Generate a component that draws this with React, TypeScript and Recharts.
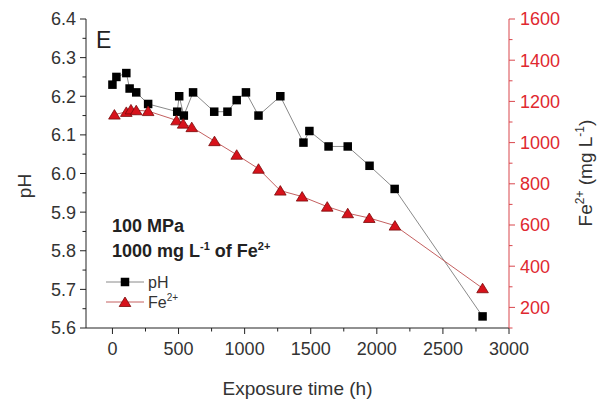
import React from 'react';
import { LineChart, Line, XAxis, YAxis } from 'recharts';

const FONT = '"Liberation Sans", Arial, Helvetica, sans-serif';

// ---- data ----
const phTimes = [0, 30, 105, 130, 180, 270, 490, 505, 540, 610, 770, 870, 940, 1010, 1105, 1270, 1445, 1490, 1635, 1780, 1945, 2135, 2800];
const phValues = [6.23, 6.25, 6.26, 6.22, 6.21, 6.18, 6.16, 6.2, 6.15, 6.21, 6.16, 6.16, 6.19, 6.21, 6.15, 6.2, 6.08, 6.11, 6.07, 6.07, 6.02, 5.96, 5.63];

const feTimes = [15, 105, 140, 180, 270, 485, 535, 600, 772, 940, 1105, 1270, 1435, 1625, 1780, 1943, 2137, 2800];
const feValues = [1136, 1149, 1161, 1157, 1153, 1108, 1092, 1075, 1007, 941, 873, 767, 738, 689, 657, 634, 597, 293];

// ---- ticks ----
const xMajorTicks = [0, 500, 1000, 1500, 2000, 2500, 3000];
const xMinorTicks = [250, 750, 1250, 1750, 2250, 2750];
const phMajorTicks = [5.6, 5.7, 5.8, 5.9, 6.0, 6.1, 6.2, 6.3, 6.4];
const phMinorTicks = [5.65, 5.75, 5.85, 5.95, 6.05, 6.15, 6.25, 6.35];
const feMajorTicks = [200, 400, 600, 800, 1000, 1200, 1400, 1600];
const feMinorTicks = [100, 300, 500, 700, 900, 1100, 1300, 1500];

const phData = phTimes.map((t, i) => ({ t, v: phValues[i] }));
const feData = feTimes.map((t, i) => ({ t, v: feValues[i] }));

const isMajor = (list: number[], v: number) => list.some((m) => Math.abs(m - v) < 1e-6);

const DARK = '#222';
const RED_LABEL = '#e0282f';
const RED_AXIS = '#d9474d';

const LeftTick = (props: any) => {
  const { x, y, payload } = props;
  const major = isMajor(phMajorTicks, payload.value);
  return (
    <g>
      <line x1={x} x2={x - (major ? 6 : 3.5)} y1={y} y2={y} stroke={DARK} strokeWidth={1} />
      {major && (
        <text x={x - 10} y={y} dy="0.36em" textAnchor="end" fontSize={18} fontFamily={FONT} fill="#333">
          {payload.value.toFixed(1)}
        </text>
      )}
    </g>
  );
};

const RightTick = (props: any) => {
  const { x, y, payload } = props;
  const major = isMajor(feMajorTicks, payload.value);
  return (
    <g>
      <line x1={x} x2={x + (major ? 6 : 3.5)} y1={y} y2={y} stroke={RED_AXIS} strokeWidth={1} />
      {major && (
        <text x={x + 11} y={y} dy="0.36em" textAnchor="start" fontSize={18} fontFamily={FONT} fill={RED_LABEL}>
          {payload.value}
        </text>
      )}
    </g>
  );
};

const BottomTick = (props: any) => {
  const { x, y, payload } = props;
  const major = isMajor(xMajorTicks, payload.value);
  return (
    <g>
      <line x1={x} x2={x} y1={y} y2={y + (major ? 6 : 3.5)} stroke={DARK} strokeWidth={1} />
      {major && (
        <text x={x} y={y + 27} textAnchor="middle" fontSize={18} fontFamily={FONT} fill="#333">
          {payload.value}
        </text>
      )}
    </g>
  );
};

const TopTick = (props: any) => {
  const { x, y, payload } = props;
  const major = isMajor(xMajorTicks, payload.value);
  return <line x1={x} x2={x} y1={y} y2={y + (major ? 6 : 3.5)} stroke={DARK} strokeWidth={1} />;
};

const Square = (props: any) => {
  const { cx, cy, index } = props;
  if (cx == null || cy == null) return <g key={`s-${index}`} />;
  return <rect key={`s-${index}`} x={cx - 4.25} y={cy - 4.25} width={8.5} height={8.5} fill="#000" />;
};

const Triangle = (props: any) => {
  const { cx, cy, index } = props;
  if (cx == null || cy == null) return <g key={`t-${index}`} />;
  const pts = `${cx},${cy - 5} ${cx - 5.8},${cy + 4.5} ${cx + 5.8},${cy + 4.5}`;
  return <polygon key={`t-${index}`} points={pts} fill="#d7121b" stroke="#7a0a0a" strokeWidth={0.8} />;
};

const XTitle = (props: any) => {
  const vb = props.viewBox || {};
  return (
    <text x={vb.x + vb.width / 2} y={395} textAnchor="middle" fontSize={19} fontFamily={FONT} fill="#333">
      Exposure time (h)
    </text>
  );
};

const LeftTitle = () => (
  <text x={31} y={186} transform="rotate(-90, 31, 186)" textAnchor="middle" fontSize={19} fontFamily={FONT} fill="#333">
    pH
  </text>
);

const RightTitle = () => (
  <text x={592} y={173} transform="rotate(-90, 592, 173)" textAnchor="middle" fontSize={19} fontFamily={FONT} fill="#333">
    Fe
    <tspan fontSize={12} dy={-8}>2+</tspan>
    <tspan dy={8}> (mg L</tspan>
    <tspan fontSize={12} dy={-8}>-1</tspan>
    <tspan dy={8}>)</tspan>
  </text>
);

export default function App() {
  return (
    <div style={{ position: 'absolute', left: 0, top: 0, width: 602, height: 401, background: '#fff' }}>
      <LineChart width={602} height={401} margin={{ top: 19, right: 0, bottom: 0, left: 0 }}>
        <XAxis
          xAxisId="b"
          dataKey="t"
          type="number"
          domain={[-200, 3000]}
          ticks={[...xMajorTicks, ...xMinorTicks]}
          interval={0}
          height={73}
          tickSize={0}
          tickMargin={0}
          tickLine={false}
          tick={<BottomTick />}
          axisLine={{ stroke: DARK, strokeWidth: 1 }}
          allowDataOverflow
          label={<XTitle />}
        />
        <XAxis
          xAxisId="t"
          orientation="top"
          dataKey="t"
          type="number"
          domain={[-200, 3000]}
          ticks={[...xMajorTicks, ...xMinorTicks]}
          interval={0}
          height={0}
          tickSize={0}
          tickMargin={0}
          tickLine={false}
          tick={<TopTick />}
          axisLine={{ stroke: DARK, strokeWidth: 1 }}
          allowDataOverflow
        />
        <YAxis
          yAxisId="l"
          orientation="left"
          type="number"
          domain={[5.6, 6.4]}
          ticks={[...phMajorTicks, ...phMinorTicks]}
          interval={0}
          width={86}
          tickSize={0}
          tickMargin={0}
          tickLine={false}
          tick={<LeftTick />}
          axisLine={{ stroke: DARK, strokeWidth: 1 }}
          allowDataOverflow
          label={<LeftTitle />}
        />
        <YAxis
          yAxisId="r"
          orientation="right"
          type="number"
          domain={[100, 1600]}
          ticks={[...feMajorTicks, ...feMinorTicks]}
          interval={0}
          width={93}
          tickSize={0}
          tickMargin={0}
          tickLine={false}
          tick={<RightTick />}
          axisLine={{ stroke: RED_AXIS, strokeWidth: 1 }}
          allowDataOverflow
          label={<RightTitle />}
        />
        <Line
          data={phData}
          dataKey="v"
          xAxisId="b"
          yAxisId="l"
          type="linear"
          stroke="#8a8a8a"
          strokeWidth={1}
          dot={Square}
          activeDot={false}
          isAnimationActive={false}
        />
        <Line
          data={feData}
          dataKey="v"
          xAxisId="b"
          yAxisId="r"
          type="linear"
          stroke="#c46060"
          strokeWidth={1}
          dot={Triangle}
          activeDot={false}
          isAnimationActive={false}
        />
      </LineChart>
      <svg
        width={602}
        height={401}
        style={{ position: 'absolute', left: 0, top: 0, pointerEvents: 'none' }}
      >
        <text x={96} y={48} fontSize={23} fontFamily={FONT} fill="#222">E</text>
        <text x={112} y={232} fontSize={18} fontWeight="bold" fontFamily={FONT} fill="#222">100 MPa</text>
        <text x={112} y={257} fontSize={18} fontWeight="bold" fontFamily={FONT} fill="#222">
          1000 mg L
          <tspan fontSize={11} dy={-7}>-1</tspan>
          <tspan dy={7}> of Fe</tspan>
          <tspan fontSize={11} dy={-7}>2+</tspan>
        </text>
        <line x1={106} x2={144} y1={282} y2={282} stroke="#8a8a8a" strokeWidth={1} />
        <rect x={120.75} y={277.75} width={8.5} height={8.5} fill="#000" />
        <text x={148} y={288} fontSize={16} fontFamily={FONT} fill="#333">pH</text>
        <line x1={106} x2={144} y1={302} y2={302} stroke="#c46060" strokeWidth={1} />
        <polygon points="125,297 119.2,306.5 130.8,306.5" fill="#d7121b" stroke="#7a0a0a" strokeWidth={0.8} />
        <text x={148} y={308} fontSize={16} fontFamily={FONT} fill="#333">
          Fe
          <tspan fontSize={10} dy={-7}>2+</tspan>
        </text>
      </svg>
    </div>
  );
}
